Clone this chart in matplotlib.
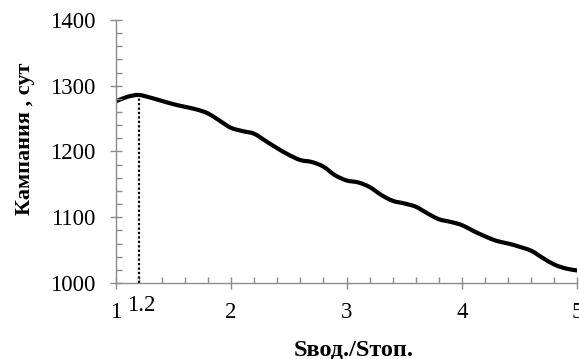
import matplotlib
matplotlib.use('Agg')
from matplotlib import pyplot as plt
from matplotlib.ticker import MultipleLocator
from matplotlib.path import Path
from matplotlib.patches import PathPatch

plt.rcParams['font.family'] = 'Liberation Serif'

# S_vod / S_top ratio and campaign length, days
ratio = [1.0, 1.1, 1.2, 1.3, 1.4, 1.5, 1.6, 1.7, 1.8, 1.9, 2.0,
         2.1, 2.2, 2.3, 2.4, 2.5, 2.6, 2.7, 2.8, 2.9, 3.0,
         3.1, 3.2, 3.3, 3.4, 3.5, 3.6, 3.7, 3.8, 3.9, 4.0,
         4.1, 4.2, 4.3, 4.4, 4.5, 4.6, 4.7, 4.8, 4.9, 5.0]
campaign = [1276, 1283, 1286, 1282, 1277, 1272, 1268, 1264, 1258, 1247, 1236,
            1231, 1227, 1216, 1205, 1195, 1187, 1184, 1177, 1164, 1156,
            1153, 1146, 1134, 1125, 1121, 1116, 1106, 1097, 1093, 1088,
            1079, 1071, 1064, 1060, 1055, 1049, 1038, 1028, 1022, 1019]
opt_x = 1.2
opt_y = 1286

AXIS_COLOR = '#8c8c8c'


def smooth_path(xs, ys):
    # Catmull-Rom style bezier through the points, like a "smoothed line"
    verts = [(xs[0], ys[0])]
    codes = [Path.MOVETO]
    n = len(xs)
    for i in range(n - 1):
        x0, y0 = (xs[i - 1], ys[i - 1]) if i > 0 else (xs[i], ys[i])
        x1, y1 = xs[i], ys[i]
        x2, y2 = xs[i + 1], ys[i + 1]
        x3, y3 = (xs[i + 2], ys[i + 2]) if i + 2 < n else (x2, y2)
        c1 = (x1 + (x2 - x0) / 6, y1 + (y2 - y0) / 6)
        c2 = (x2 - (x3 - x1) / 6, y2 - (y3 - y1) / 6)
        verts += [c1, c2, (x2, y2)]
        codes += [Path.CURVE4] * 3
    return Path(verts, codes)


fig = plt.figure(figsize=(5.79, 3.59), dpi=100)
ax = fig.add_axes([0.1995, 0.2117, 0.7979, 0.7326])

ax.add_patch(PathPatch(smooth_path(ratio, campaign), facecolor='none',
                       edgecolor='black', linewidth=3.0, capstyle='round'))
ax.plot([opt_x, opt_x], [1000, opt_y], color='black', linewidth=1.6,
        linestyle=(0, (1, 1)))

ax.set_xlim(1, 5)
ax.set_ylim(1000, 1400)
ax.xaxis.set_major_locator(MultipleLocator(1))
ax.xaxis.set_minor_locator(MultipleLocator(0.2))
ax.yaxis.set_major_locator(MultipleLocator(100))
ax.yaxis.set_minor_locator(MultipleLocator(20))

for s in ['top', 'right']:
    ax.spines[s].set_visible(False)
for s in ['left', 'bottom']:
    ax.spines[s].set_color(AXIS_COLOR)
    ax.spines[s].set_linewidth(1.0)

ax.tick_params(which='major', direction='inout', length=8.5, width=1.0,
               color=AXIS_COLOR, labelsize=16.5, labelcolor='black')
ax.tick_params(which='minor', direction='in', length=4, width=1.0, color=AXIS_COLOR)
ax.tick_params(axis='x', which='major', pad=9.5)
ax.tick_params(axis='y', which='major', pad=10)

ax.annotate('1.2', xy=(opt_x, 1000), xytext=(2, -8.5), textcoords='offset points',
            fontsize=16.5, ha='center', va='top')

ax.set_ylabel('Кампания , сут', fontsize=16, fontweight='bold')
ax.yaxis.set_label_coords(-0.175, 0.55)
ax.set_xlabel('Sвод./Sтоп.', fontsize=17.5, fontweight='bold')
ax.xaxis.set_label_coords(0.515, -0.215)

fig.savefig('out.png', dpi=100)
plt.close(fig)
